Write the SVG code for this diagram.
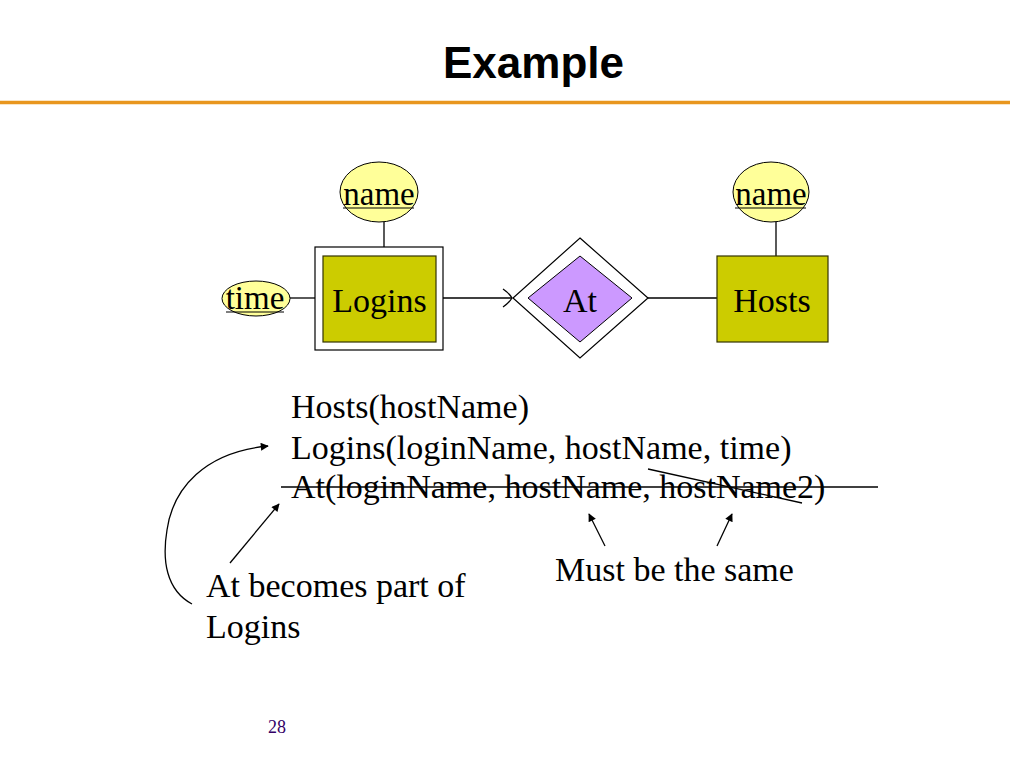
<svg xmlns="http://www.w3.org/2000/svg" width="1024" height="768" viewBox="0 0 1024 768">
<defs>
<style>
.t{font-family:"Liberation Serif","Times New Roman",serif;fill:#000}
.body{font-size:34px}
.attr{font-size:33px}
.ul{stroke:#000;stroke-width:1.2}
.ln{stroke:#000;stroke-width:1.3;fill:none}
.ell{fill:#FFFF99;stroke:#000;stroke-width:1}
.ent{fill:#CCCC00;stroke:#333300;stroke-width:1.2}
</style>
<marker id="ah" viewBox="0 0 10 10" refX="9" refY="5" markerWidth="10" markerHeight="8" markerUnits="userSpaceOnUse" orient="auto">
<path d="M0,0 L10,5 L0,10 z" fill="#000"/>
</marker>
</defs>
<rect x="0" y="0" width="1024" height="768" fill="#fff"/>
<g id="title">
<text x="533.5" y="78" text-anchor="middle" style="font-family:'Liberation Sans',Arial,sans-serif;font-weight:bold;font-size:44px" fill="#000">Example</text>
<line x1="0" y1="102.5" x2="1010" y2="102.5" stroke="#E8961E" stroke-width="3.5"/>
</g>
<g id="connectors">
<line class="ln" x1="384" y1="222" x2="384" y2="247"/>
<line class="ln" x1="290" y1="298" x2="315" y2="298"/>
<line class="ln" x1="443" y1="298" x2="512" y2="298"/>
<path class="ln" d="M503,289 Q509,293 512,298 Q509,303 503,307"/>
<line class="ln" x1="648" y1="298" x2="717" y2="298"/>
<line class="ln" x1="776" y1="222" x2="776" y2="256"/>
</g>
<g id="logins">
<rect x="315" y="247" width="128" height="103" fill="#fff" stroke="#000" stroke-width="1.2"/>
<rect class="ent" x="323" y="256" width="113" height="86"/>
<text class="t body" x="379.5" y="312" text-anchor="middle">Logins</text>
</g>
<g id="logins-name">
<ellipse class="ell" cx="379" cy="192" rx="39" ry="30"/>
<text class="t attr" x="379" y="205" text-anchor="middle">name</text>
<line class="ul" x1="343" y1="208" x2="414" y2="208"/>
</g>
<g id="logins-time">
<ellipse class="ell" cx="256" cy="298.5" rx="34" ry="17.5"/>
<text class="t attr" x="255" y="309" text-anchor="middle">time</text>
<line class="ul" x1="226" y1="312" x2="284" y2="312"/>
</g>
<g id="at">
<polygon points="580,238 648,298 580,358 513,298" fill="#fff" stroke="#000" stroke-width="1.2"/>
<polygon points="580,256 632,298 580,342 528,298" fill="#CC99FF" stroke="#000" stroke-width="1"/>
<text class="t body" x="580" y="312" text-anchor="middle">At</text>
</g>
<g id="hosts">
<rect class="ent" x="717" y="256" width="111" height="86"/>
<text class="t body" x="772" y="312" text-anchor="middle">Hosts</text>
</g>
<g id="hosts-name">
<ellipse class="ell" cx="771" cy="192" rx="38" ry="30"/>
<text class="t attr" x="771" y="205" text-anchor="middle">name</text>
<line class="ul" x1="735" y1="208" x2="806" y2="208"/>
</g>
<g id="relations">
<text class="t body" x="291" y="418">Hosts(hostName)</text>
<text class="t body" x="291" y="459">Logins(loginName, hostName, time)</text>
<text class="t body" x="291" y="498">At(loginName, hostName, hostName2)</text>
<line class="ln" x1="281" y1="487" x2="878" y2="487"/>
<line class="ln" x1="648" y1="469" x2="802" y2="503"/>
</g>
<g id="annotations">
<path class="ln" d="M192,604 C166,590 162,560 167,530 C173,488 205,452 268,446" marker-end="url(#ah)"/>
<line class="ln" x1="230" y1="563" x2="279" y2="504" marker-end="url(#ah)"/>
<line class="ln" x1="605" y1="546" x2="589" y2="514" marker-end="url(#ah)"/>
<line class="ln" x1="717" y1="546" x2="732" y2="514" marker-end="url(#ah)"/>
<text class="t body" x="555" y="581">Must be the same</text>
<text class="t body" x="206" y="597">At becomes part of</text>
<text class="t body" x="206" y="638">Logins</text>
</g>
<text x="277" y="733" text-anchor="middle" style="font-family:'Liberation Serif','Times New Roman',serif;font-size:18px" fill="#330066">28</text>
</svg>
